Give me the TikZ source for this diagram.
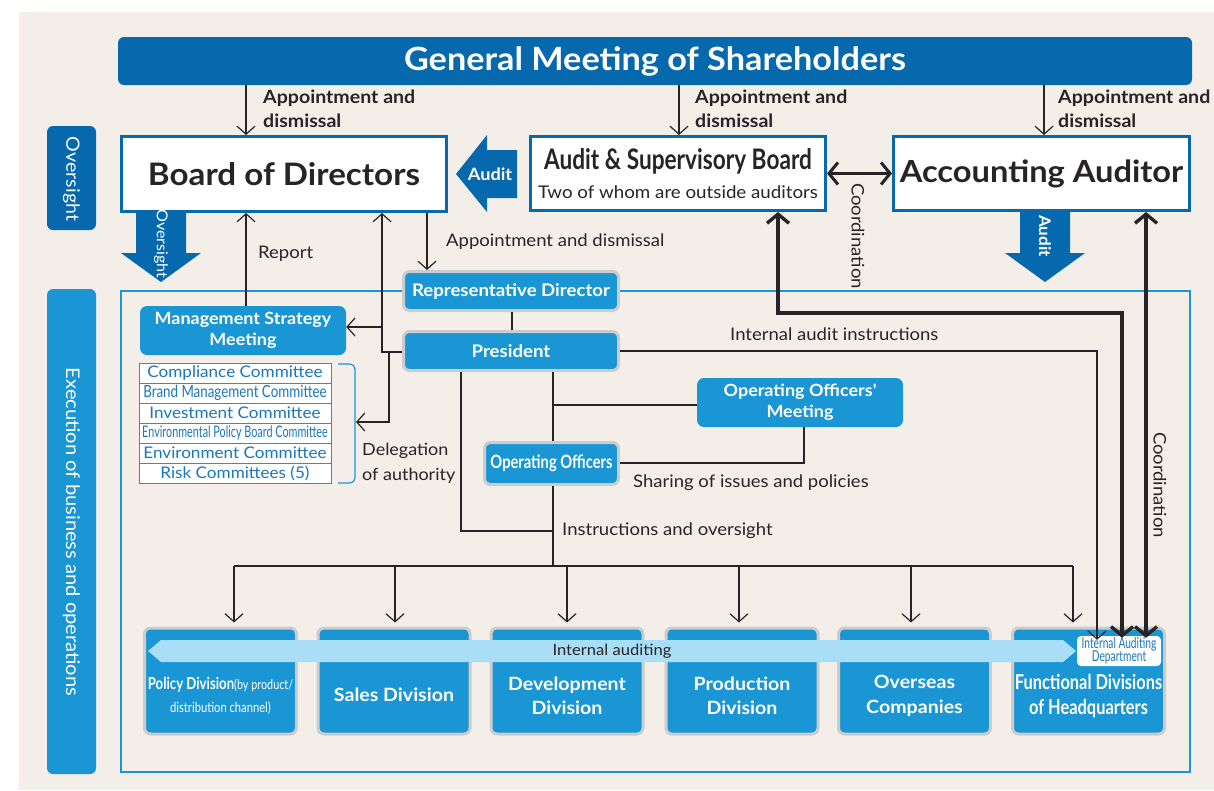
\documentclass[tikz,border=0pt]{standalone}
\usepackage{fontspec}
\setmainfont{Lato}[FakeStretch=1.07]
\newfontfamily\cond[FakeStretch=0.8]{Lato}
\newfontfamily\condx[FakeStretch=0.68]{Lato}
\usetikzlibrary{arrows.meta}
\definecolor{bg}{RGB}{243,239,232}
\definecolor{dblue}{RGB}{6,104,173}
\definecolor{lblue}{RGB}{26,150,212}
\definecolor{gborder}{RGB}{204,204,204}
\definecolor{pale}{RGB}{170,222,247}
\definecolor{txt}{RGB}{40,36,37}
\definecolor{ctxt}{RGB}{28,118,188}
\newcommand\fsz[2]{\fontsize{#1}{#2}\selectfont}
\begin{document}
\begin{tikzpicture}[x=1pt,y=-1pt,
  darkbox/.style={fill=dblue, rounded corners=6pt, text=white, font=\bfseries},
  whitebox/.style={draw=dblue, line width=3pt, fill=white, text=txt},
  tabbox/.style={rounded corners=6pt, text=white},
  lbox/.style={fill=lblue, draw=gborder, line width=3pt, rounded corners=6pt, text=white, font=\bfseries, align=center},
  mbox/.style={fill=lblue, rounded corners=7pt, text=white, font=\bfseries, align=center},
  divbox/.style={fill=lblue, draw=gborder, line width=3pt, rounded corners=6pt, minimum width=152pt, minimum height=106pt},
  divtext/.style={text=white, font=\bfseries\fsz{18.3}{24.5}, align=center},
  comm/.style={draw=lblue, line width=1pt, fill=white, text=ctxt, minimum width=192pt, minimum height=20pt, inner sep=0pt},
  lab/.style={text=txt, font=\fsz{17.3}{24}, inner sep=0pt},
  blab/.style={text=txt, font=\bfseries\fsz{18.3}{24}, inner sep=0pt, align=left},
  arr/.style={draw=txt, line width=1.2pt, -{Straight Barb[length=8pt,width=18pt]}},
  plain/.style={draw=txt, line width=1.2pt},
  thk/.style={draw=txt, line width=3.4pt, {Straight Barb[length=9pt,width=22pt]}-{Straight Barb[length=9pt,width=22pt]}},
  bigarrow/.style={fill=dblue}
]
\useasboundingbox (0,0) rectangle (1214,790);
\fill[white] (0,0) rectangle (1214,790);
\fill[bg] (19,12) rectangle (1214,790);

% execution frame
\draw[lblue, line width=2.8pt] (121,291) rectangle (1190,772);

% tabs
\node[tabbox, fill=dblue, minimum width=49pt, minimum height=104pt] (tabo) at (71.5,178) {};
\node[rotate=-90, text=white, font=\fsz{18.3}{20}] (tabotx) at (71.5,179) {Oversight};
\node[tabbox, fill=lblue, minimum width=49pt, minimum height=485pt] (tabe) at (71.5,531.5) {};
\node[rotate=-90, text=white, font=\fsz{18.8}{20}] (tabetx) at (71.5,532) {Execution of business and operations};

% top
\node[darkbox, minimum width=1074pt, minimum height=48pt, font=\bfseries\fsz{32}{34}] (gm) at (655,61) {General Meeting of Shareholders};
\node[whitebox, minimum width=325pt, minimum height=75pt, font=\bfseries\fsz{31}{34}] (bod) at (284,174) {Board of Directors};
\node[whitebox, minimum width=295pt, minimum height=74pt, align=center, inner sep=0pt] (asb) at (678,173.5)
  {{\cond\bfseries\fsz{28.3}{30}Audit \& Supervisory Board}\\[10pt]{\fsz{17.5}{20}Two of whom are outside auditors}};
\node[whitebox, minimum width=296pt, minimum height=74pt, font=\bfseries\fsz{30.5}{34}] (aa) at (1041.5,173.5) {Accounting Auditor};

% big arrows
\fill[bigarrow] (456,174) -- (487,135) -- (487,150) -- (517,150) -- (517,198) -- (487,198) -- (487,212) -- cycle;
\node[text=white, font=\bfseries\fsz{17}{20}] (audtx) at (490,174) {Audit};
\fill[bigarrow] (136,212) -- (186,212) -- (186,253) -- (201,253) -- (161,282) -- (121,253) -- (136,253) -- cycle;
\node[rotate=-90, text=white, font=\fsz{15}{18}] (ovtx) at (161,244) {Oversight};
\fill[bigarrow] (1020,212) -- (1070,212) -- (1070,253) -- (1085,253) -- (1045,282) -- (1005,253) -- (1020,253) -- cycle;
\node[rotate=-90, text=white, font=\bfseries\fsz{16}{18}] (audtx2) at (1045,236) {Audit};

% appointment arrows
\coordinate (c1) at (246,0);
\coordinate (c2) at (679,0);
\coordinate (c3) at (1044,0);
\draw[arr] (gm.south -| c1) -- (bod.north -| c1);
\draw[arr] (gm.south -| c2) -- (asb.north -| c2);
\draw[arr] (gm.south -| c3) -- (aa.north -| c3);
\node[blab, anchor=north west] (ap1) at (263,90) {Appointment and\\dismissal};
\node[blab, anchor=north west] (ap2) at (695,90) {Appointment and\\dismissal};
\node[blab, anchor=north west] (ap3) at (1058,90) {Appointment and\\dismissal};

% coordination asb-aa
\draw[thk, line width=3pt] (asb.east) -- (aa.west);
\node[rotate=-90, lab] (coord1) at (858,236) {Coordination};

% execution nodes
\node[lbox, minimum width=215pt, minimum height=39pt, font=\bfseries\fsz{17.4}{20}] (rd) at (511,291) {Representative Director};
\node[lbox, minimum width=215pt, minimum height=39pt, font=\bfseries\fsz{17.4}{20}] (pres) at (511,351) {President};
\node[mbox, minimum width=206pt, minimum height=49pt, font=\bfseries\fsz{16.8}{20.5}] (msm) at (243,330.5) {Management Strategy\\Meeting};
\node[mbox, minimum width=206pt, minimum height=49pt, font=\bfseries\fsz{16.8}{20.5}] (oom) at (800,402.5) {Operating Officers\textquotesingle\\Meeting};
\node[lbox, minimum width=134pt, minimum height=42pt, font=\cond\bfseries\fsz{18.4}{20}] (oo) at (551.5,463.5) {Operating Officers};

% committees
\node[comm, font=\fsz{16}{18}] (k1) at (235,373) {Compliance Committee};
\node[comm, font=\cond\fsz{16.7}{18}] (k2) at (235,393) {Brand Management Committee};
\node[comm, font=\fsz{16}{18}] (k3) at (235,413) {Investment Committee};
\node[comm, font=\condx\fsz{15.9}{18}] (k4) at (235,433) {Environmental Policy Board Committee};
\node[comm, font=\fsz{16}{18}] (k5) at (235,453) {Environment Committee};
\node[comm, font=\fsz{16}{18}] (k6) at (235,473) {Risk Committees (5)};
\draw[lblue, line width=1.2pt, rounded corners=5pt] (338,364) -- (355,364) -- (355,483) -- (338,483);
\coordinate (brk) at (356,422);
\node[lab, anchor=west, align=left, font=\fsz{16.8}{25}] (deleg) at (362,463) {Delegation\\of authority};

% connectors in execution area
\coordinate (r1) at (246,0);
\draw[arr] (msm.north -| r1) -- (bod.south -| r1);
\node[lab, anchor=west] (report) at (258,254) {Report};
\coordinate (r2) at (427,0);
\draw[arr] (bod.south -| r2) -- (rd.north -| r2);
\node[lab, anchor=west] (apd) at (446,242) {Appointment and dismissal};
\coordinate (v1) at (382,352);
\coordinate (v1b) at (382,327);
\coordinate (v2) at (389,352);
\coordinate (v2b) at (389,422);
\draw[arr] (pres.west |- v1) -- (v1) -- (bod.south -| v1);
\draw[arr] (v1b) -- (msm.east |- v1b);
\draw[arr] (v2) -- (v2b) -- (brk);
\coordinate (r3) at (512,0);
\draw[plain] (rd.south -| r3) -- (pres.north -| r3);

\coordinate (p1) at (553,405);
\coordinate (p2) at (461,531);
\coordinate (p3) at (553,531);
\coordinate (p4) at (804,463);
\draw[plain] (pres.south -| p1) -- (oo.north -| p1);
\draw[plain] (p1) -- (oom.west |- p1);
\draw[plain] (oo.east |- p4) -- (p4) -- (oom.south -| p4);
\draw[plain] (pres.south -| p2) -- (p2) -- (p3);
\node[lab, anchor=west] (share) at (633,483) {Sharing of issues and policies};
\node[lab, anchor=west] (instr) at (562,531) {Instructions and oversight};

% divisions
\node[divbox] (d1) at (220.5,681) {};
\node[divbox] (d2) at (394,681) {};
\node[divbox] (d3) at (567,681) {};
\node[divbox] (d4) at (742,681) {};
\node[divbox] (d5) at (914.5,681) {};
\node[divbox] (d6) at (1088.5,681) {};
\node[text=white, align=center, font=\fsz{15}{23}] (t1) at (220.5,696) {{\cond\bfseries\fsz{16.5}{23}Policy Division}{\cond\fsz{13.5}{23}(by product/}\\{\cond\fsz{14}{23}distribution channel)}};
\node[divtext] (t2) at (394,695) {Sales Division};
\node[divtext] (t3) at (567,696) {Development\\Division};
\node[divtext] (t4) at (742,696) {Production\\Division};
\node[divtext] (t5) at (914.5,696) {Overseas\\Companies};
\node[divtext, font=\cond\bfseries\fsz{20.5}{24.5}] (t6) at (1088.5,696) {Functional Divisions\\of Headquarters};

% distribution
\coordinate (q0) at (553,566);
\draw[plain] (oo.south -| q0) -- (q0);
\draw[plain] (234,566) -- (1073,566);
\foreach \xx/\nn in {234/d1, 395/d2, 567/d3, 739/d4, 911/d5, 1073/d6} {
  \coordinate (dd) at (\xx,566);
  \draw[arr] (dd) -- ([yshift=4pt]\nn.north -| dd);
}

% internal auditing band
\fill[pale] (148,651) -- (161,640) -- (1063,640) -- (1076,651) -- (1063,662) -- (161,662) -- cycle;
\node[lab, font=\fsz{15.5}{18}] (ia) at (612,651) {Internal auditing};
\node[fill=white, rounded corners=4pt, minimum width=84pt, minimum height=30pt, inner sep=0pt, align=center, text=ctxt, font=\condx\fsz{15}{13.5}] (iad) at (1119,651) {Internal Auditing\\Department};

% internal audit instructions
\coordinate (u1) at (1097,351);
\draw[arr] (pres.east |- u1) -- (u1) -- ([yshift=-4pt]iad.north -| u1);
\node[lab, anchor=west] (iai) at (730,334) {Internal audit instructions};

% thick coordination lines
\coordinate (w1) at (778,313);
\coordinate (w2) at (1122,313);
\draw[thk] (asb.south -| w1) -- (w1) -- (w2) -- ([yshift=-2pt]iad.north -| w2);
\coordinate (w3) at (1146,0);
\draw[thk] (aa.south -| w3) -- ([yshift=-2pt]iad.north -| w3);
\node[rotate=-90, lab] (coord2) at (1160,485) {Coordination};
\end{tikzpicture}
\end{document}
